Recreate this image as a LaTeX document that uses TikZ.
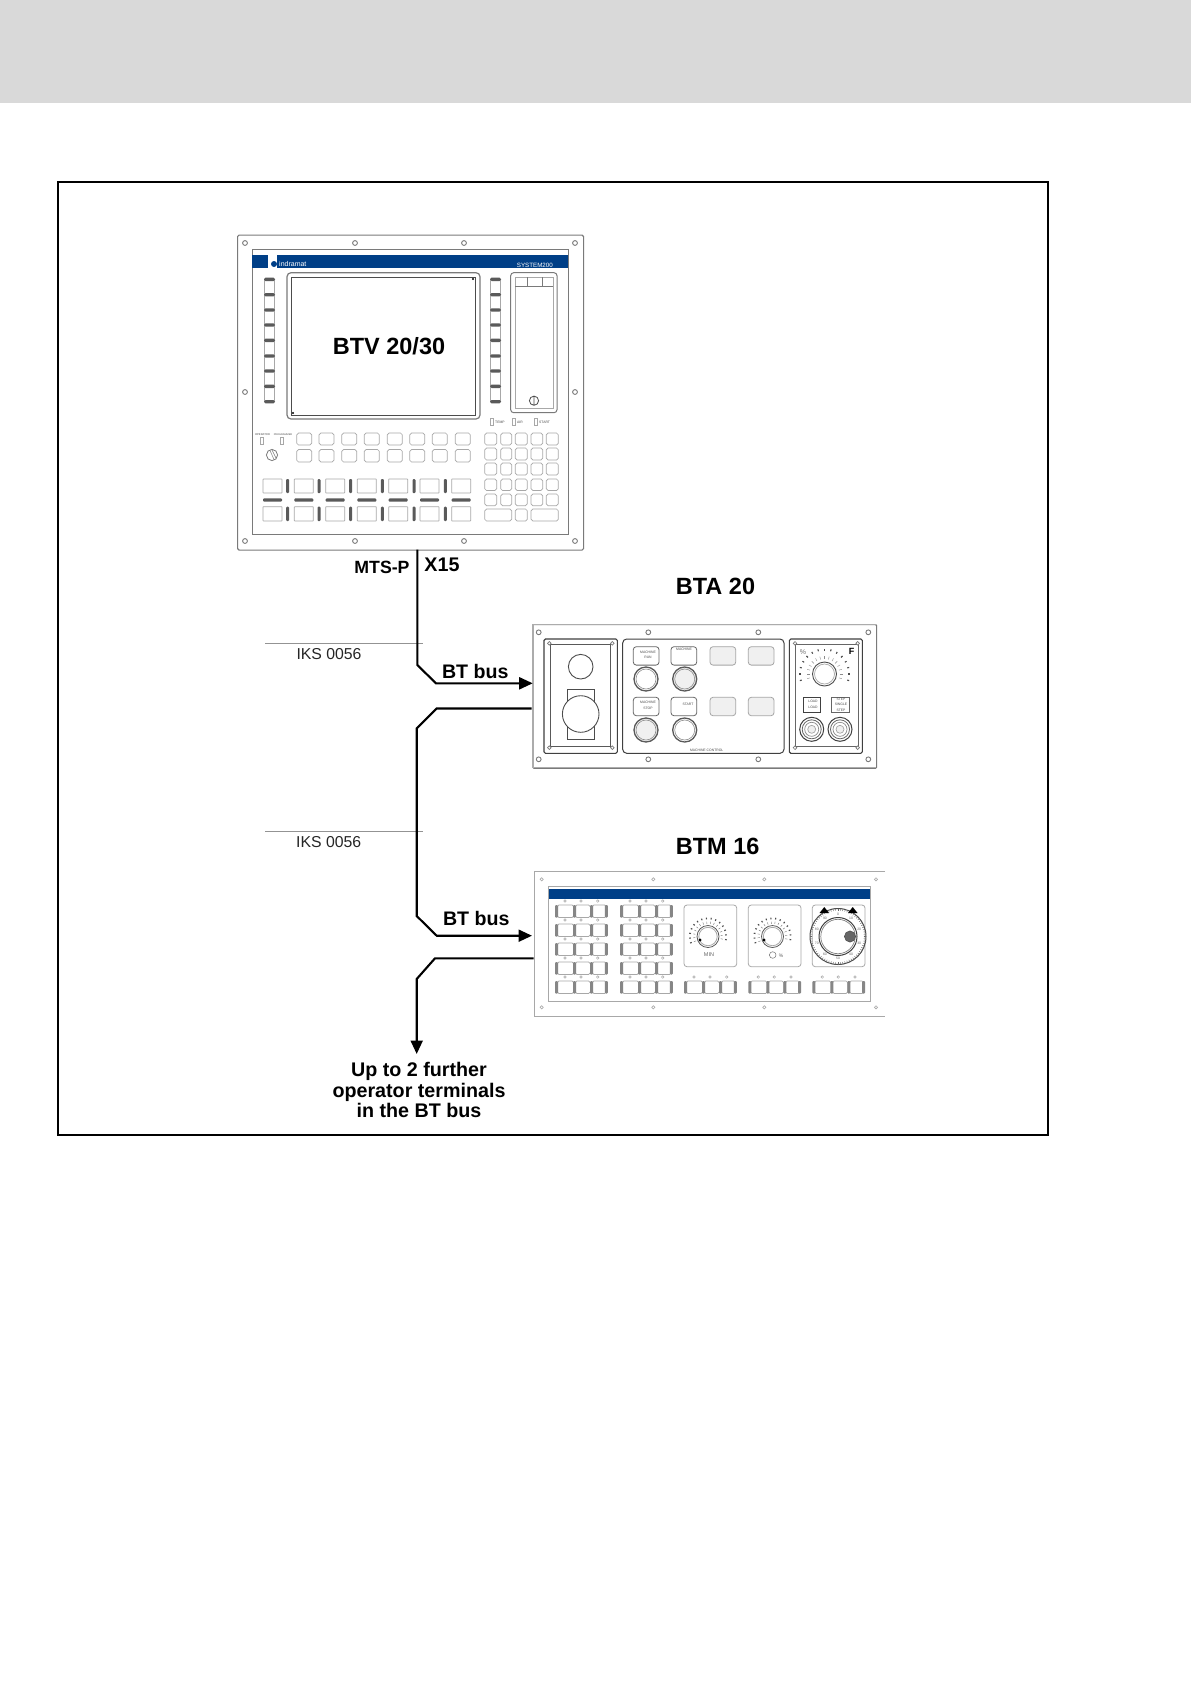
\documentclass[tikz,border=0pt]{standalone}
\usepackage{fontspec}
\setmainfont{Liberation Sans}
\usetikzlibrary{arrows.meta}
\definecolor{bandgray}{HTML}{D9D9D9}
\definecolor{blueband}{HTML}{003F87}
\definecolor{keyline}{HTML}{A8A8A8}
\definecolor{panelline}{HTML}{7A7A7A}
\definecolor{darkbar}{HTML}{5A5A5A}
\definecolor{softfill}{HTML}{F0F0F0}
\newcommand{\fsz}[1]{\fontsize{#1}{#1}\selectfont}
\tikzset{
  cable/.style={line width=2.1pt,black,line join=miter},
  cablearrow/.style={cable,-{Triangle[length=13.5pt,width=12pt]}},
  thinrule/.style={line width=1pt,gray!85},
  boldlabel/.style={inner sep=0pt,font=\bfseries\fsz{19.6},align=center},
  bigtitle/.style={inner sep=0pt,font=\bfseries\fsz{23.5}},
  ikslabel/.style={inner sep=0pt,font=\fsz{15.8},text=black!85},
  panelbox/.style={draw=panelline,line width=1.1pt,rounded corners=1.5pt,inner sep=0pt,fill=white},
  holest/.style={draw=panelline,line width=.9pt,fill=white},
  keyst/.style={draw=keyline,line width=.7pt,rounded corners=1.8pt},
  darkst/.style={fill=darkbar,draw=none,rounded corners=1pt},
  tiny/.style={inner sep=0pt,font=\fsz{3.4},text=black!70},
}
\newcommand{\hl}[2]{\draw[holest] (#1,#2) circle (2.4);}
\newcommand{\btmhole}[2]{\draw[draw=keyline,line width=.6pt,fill=white] (#1,#2) circle (1.6);}
\newcommand{\screw}[2]{\draw[draw=panelline,line width=.7pt,fill=white] (#1,#2) circle (1.8);}
\newcommand{\triplekeys}[2]{%
  \foreach \o/\w in {2/17,20/15.5,37/14.5}{\draw[keyst] (#1+\o,#2) rectangle ++(\w,12.5);}
  \foreach \o in {0,18,35,49.8}{\fill[darkst,fill=gray!95] (#1+\o,#2) rectangle ++(3,12.5);}
  \foreach \o in {10,26,42.7}{\draw[draw=keyline,line width=.5pt] (#1+\o,#2-4) circle (1.3);}
}
\newcommand{\smalldial}[2]{% cx cy
  \draw[draw=black!65,line width=.8pt] (#1,#2) circle (11);
  \draw[draw=keyline,line width=.8pt] (#1,#2) circle (9.2);
  \foreach \a in {160,175,...,380}{
    \draw[draw=black!55,line width=.4pt] ({#1+12.8*cos(\a)},{#2+12.8*sin(\a)}) -- ({#1+15*cos(\a)},{#2+15*sin(\a)});
    \draw[draw=black!70,line width=1.1pt] ({#1+17.3*cos(\a)},{#2+17.3*sin(\a)}) -- ({#1+19*cos(\a)},{#2+19*sin(\a)});
  }
}
\begin{document}
\begin{tikzpicture}[x=1pt,y=-1pt]
\useasboundingbox (0,0) rectangle (1191,1684);
\fill[white] (0,0) rectangle (1191,1684);
\fill[bandgray] (0,0) rectangle (1191,103);
\draw[black,line width=2.2pt] (58,181.7) rectangle (1048,1134.7);

%% ---------- BTV ----------
\node[panelbox,anchor=north west,minimum width=346pt,minimum height=315pt] (btv) at (237,234.5) {};
\draw[draw=panelline,line width=1pt] (252,249) rectangle (568,534);
\foreach \x in {245,355,464,575}{\foreach \y in {243,541}{\hl{\x}{\y}}}
\hl{245}{392}
\hl{575}{392}
\fill[blueband] (252,255) rectangle (568,268);
\fill[white] (268,255) rectangle (277,268);
\fill[blueband] (274,264) circle (3);
\node[inner sep=0pt,anchor=west,font=\fsz{7},text=white] (logo) at (279,264) {indramat};
\node[inner sep=0pt,anchor=east,font=\fsz{6.2},text=white] (sys) at (553,265) {SYSTEM200};
% screen
\draw[draw=panelline,line width=1.2pt,rounded corners=4pt] (287,272.7) rectangle (480,419);
\draw[draw=black!70,line width=1pt] (291,277) rectangle (475,415);
\fill[black] (473,279) circle (1.2);
\fill[black] (293,413) circle (1.2);
\node[bigtitle] (btvlabel) at (389,346) {BTV 20/30};
% soft keys
\foreach \x in {264,490}{
  \draw[keyline,line width=.7pt] (\x+.5,279) -- (\x+.5,402) (\x+10.5,279) -- (\x+10.5,402);
  \foreach \y in {279.3,294.7,310,325,340.3,356,371,386.3,401.7}{
    \fill[darkst,rounded corners=1.5pt] (\x,\y-1.7) rectangle ++(11,3.4);
  }
}
% right slot
\draw[draw=panelline,line width=1pt,rounded corners=3pt] (510.7,272.7) rectangle (557,412.7);
\draw[keyline,line width=.8pt] (515,277) rectangle (553,408);
\draw[draw=panelline,line width=.8pt] (515,286) -- (553,286) (527,277) -- (527,286) (542,277) -- (542,286);
\draw[draw=black!70,line width=.8pt] (534,400.7) circle (4.6) (534,396.1) -- (534,405.3);
% tiny indicators
\foreach \x/\t in {490/TEMP,512/AIR,534/START}{
  \draw[draw=keyline,line width=.6pt] (\x+.5,418.5) rectangle ++(2.5,7);
  \node[tiny,anchor=west] at (\x+5,422) {\t};
}
\node[tiny,font=\fsz{2.7}] (op) at (262.5,435) {OPERATOR};
\node[tiny,font=\fsz{2.5}] (prog) at (283,435) {PROGRAMMER};
\draw[draw=keyline,line width=.6pt] (260.5,437.5) rectangle ++(3,6.5);
\draw[draw=keyline,line width=.6pt] (280.5,437.5) rectangle ++(3,6.5);
\draw[draw=panelline,line width=.8pt] (272,455) circle (5.6);
\draw[draw=panelline,line width=.5pt] (270,450.5) -- (274,459.5) (272,450) -- (276,458);
% function keys
\foreach \x in {296.7,319,341.7,364.3,387.3,409.7,432.3,455.3}{
  \draw[keyst] (\x,433) rectangle ++(15,12);
  \draw[keyst] (\x,449.5) rectangle ++(15,12.5);
}
% big keys
\foreach \x in {263,294.3,325.7,357.3,388.7,420,451.7}{
  \draw[keyst,rounded corners=.5pt] (\x,479) rectangle ++(19,14);
  \draw[keyst,rounded corners=.5pt] (\x,506.7) rectangle ++(19,14.3);
  \fill[darkst] (\x,498.3) rectangle ++(19,3.4);
}
\foreach \x in {287.7,319,350.7,382.3,414,445.3}{
  \fill[darkst] (\x-1.5,479) rectangle ++(3,14);
  \fill[darkst] (\x-1.5,506.7) rectangle ++(3,14.3);
}
% keypad
\foreach \y/\h in {433/12,448/12,463/12,479/11.5,494/11.7}{
  \foreach \x/\w in {484.7/12,500.7/11,515.3/12,531/11.7,546.3/12}{
    \draw[keyst] (\x,\y) rectangle ++(\w,\h);
  }
}
\draw[keyst] (484.7,509) rectangle (511.7,521);
\draw[keyst] (515.3,509) rectangle (527.3,521);
\draw[keyst] (531,509) rectangle (558.3,521);

%% ---------- BTA ----------
\node[panelbox,anchor=north west,minimum width=343.7pt,minimum height=143.7pt,rounded corners=1pt] (bta) at (532.3,624) {};
\draw[draw=gray!65,line width=2.2pt] (533,624.5) -- (533,767.2);
\draw[draw=gray!65,line width=1.2pt] (532.3,624.3) -- (876,624.3) (532.3,767.5) -- (876,767.5);
\foreach \x in {538.7,648.3,758.3,868.3}{\foreach \y in {632.3,759.3}{\hl{\x}{\y}}}
% left box
\draw[draw=black!75,line width=1.1pt,rounded corners=1.5pt] (544,639) rectangle (617.3,753.3);
\draw[draw=black!65,line width=.9pt] (550.7,644.3) rectangle (610.7,746.7);
\foreach \x in {549.3,612.3}{\foreach \y in {643.3,747.7}{\screw{\x}{\y}}}
\draw[draw=black!70,line width=.9pt] (580.7,666.7) circle (12.3);
\draw[draw=black!70,line width=.9pt] (567.7,689) rectangle (594.3,739.3);
\draw[draw=black!70,line width=.9pt,fill=white] (580.7,714) circle (18.3);
% middle box
\draw[draw=black!75,line width=1pt,rounded corners=4pt] (622.7,639) rectangle (784,753.3);
\foreach \y in {646.7,697.3}{
  \draw[draw=black!60,line width=.8pt,rounded corners=3pt] (633.3,\y) rectangle ++(25.7,18.4);
  \draw[draw=black!60,line width=.8pt,rounded corners=3pt] (671,\y) rectangle ++(25.7,18.4);
  \draw[draw=black!35,line width=.8pt,fill=softfill,rounded corners=3pt] (710,\y) rectangle ++(25.7,18.4);
  \draw[draw=black!35,line width=.8pt,fill=softfill,rounded corners=3pt] (748.3,\y) rectangle ++(25.7,18.4);
}
\node[tiny] (m1) at (648,655) {\shortstack{MACHINE\\RUN}};
\node[tiny] (m2) at (684,649.5) {MACHINE};
\node[tiny] (m3) at (648,705.5) {\shortstack{MACHINE\\STOP}};
\node[tiny] (m4) at (688,704) {START};
\foreach \x/\y/\c in {646/679/white,684.7/679/softfill,646/730/softfill,684.7/730/white}{
  \draw[draw=black!65,line width=1.3pt,fill=\c] (\x,\y) circle (12);
  \draw[draw=black!45,line width=.6pt] (\x,\y) circle (10);
}
\node[tiny] (ctrl) at (706.7,750) {MACHINE CONTROL};
% right box
\draw[draw=black!75,line width=1.1pt,rounded corners=1.5pt] (789.3,639) rectangle (862.3,753.3);
\draw[draw=black!60,line width=.9pt] (795.7,644.3) rectangle (858.3,746.7);
\foreach \x in {795,857.7}{\foreach \y in {643.3,747.7}{\screw{\x}{\y}}}
\draw[draw=black!70,line width=.9pt] (824.5,674) circle (12);
\draw[draw=keyline,line width=.7pt] (824.5,674) circle (10);
\foreach \a in {165,180,...,375}{
  \draw[draw=black!45,line width=.4pt] ({824.5+15*cos(\a)},{674+15*sin(\a)}) -- ({824.5+18*cos(\a)},{674+18*sin(\a)});
  \draw[draw=black!70,line width=1.1pt] ({824.5+23.5*cos(\a)},{674+23.5*sin(\a)}) -- ({824.5+25.5*cos(\a)},{674+25.5*sin(\a)});
}
\node[inner sep=0pt,font=\bfseries\fsz{9}] (fmark) at (851.7,651.7) {F};
\node[inner sep=0pt,font=\fsz{7},text=black!55] (pct) at (803,652) {\%};
\draw[draw=black!75,line width=.9pt] (803.3,697.3) rectangle (820.7,712);
\draw[draw=black!60,line width=.7pt] (831.7,697.3) rectangle (849.3,712);
\node[tiny] (ba) at (813,704.5) {\shortstack{LOAD\\LOAD}};
\node[tiny] (bb) at (841,704.5) {\shortstack{STEP\\SINGLE\\STEP}};
\foreach \x in {811.7,840}{
  \draw[draw=black!75,line width=1pt] (\x,729.3) circle (12);
  \draw[draw=black!60,line width=.8pt] (\x,729.3) circle (9.5);
  \draw[draw=black!45,line width=.7pt] (\x,729.3) circle (7);
  \draw[draw=black!35,line width=.7pt,fill=softfill] (\x,729.3) circle (4);
}

%% ---------- BTM ----------
\node[inner sep=0pt,anchor=north west,minimum width=351pt,minimum height=144.3pt] (btm) at (534,871.7) {};
\draw[draw=keyline,line width=.9pt] (885,871.7) -- (534,871.7) -- (534,1016) -- (885,1016);
\draw[draw=keyline,line width=.9pt] (548.3,886.7) rectangle (870.7,1001);
\fill[blueband] (549,889) rectangle (870,899);
\foreach \x in {541.7,653.3,764.3,876}{\foreach \y in {879.3,1007.3}{\btmhole{\x}{\y}}}
\foreach \y in {905,924,943,962,981}{
  \triplekeys{555}{\y}
  \triplekeys{620}{\y}
}
\foreach \x in {684,748.3,812.3}{
  \triplekeys{\x}{981}
  \draw[draw=keyline,line width=.8pt,rounded corners=3pt] (\x,905) rectangle ++(52.7,61.7);
}
\smalldial{708}{936.5}
\smalldial{772.5}{936.5}
\fill[black] (700,940) circle (1.6);
\fill[black] (764,940) circle (1.6);
\node[inner sep=0pt,font=\fsz{5.5},text=black!60] (unit) at (709,955) {MIN};
\draw[draw=black!55,line width=.5pt] (772.7,955) circle (3.3);
\node[inner sep=0pt,font=\fsz{5},text=black!60] (pct2) at (781,956) {\%};
% handwheel
\draw[draw=black!70,line width=1pt] (838,936.5) circle (28);
\foreach \a in {0,5,...,355}{
  \draw[draw=black!60,line width=.4pt] ({838+25.7*cos(\a)},{936.5+25.7*sin(\a)}) -- ({838+28*cos(\a)},{936.5+28*sin(\a)});
}
\foreach \n [count=\i from 0] in {0,10,20,30,40,50,60,70,80,90}{
  \node[tiny,text=black!60] at ({838+22.3*cos(270+36*\i)},{936.5+22.3*sin(270+36*\i)}) {\n};
}
\draw[draw=black!75,line width=1pt] (838,936.5) circle (19);
\draw[draw=black!50,line width=.7pt] (838,936.5) circle (17.2);
\fill[black!60,draw=black!70,line width=.5pt] (850,936.5) circle (5.6);
\fill[black] (824.3,907) -- (819.5,913) -- (829,913) -- cycle;
\fill[black] (852.7,907) -- (848,913) -- (857.5,913) -- cycle;

%% ---------- labels ----------
\node[bigtitle] (btalabel) at (715.5,586.6) {BTA 20};
\node[bigtitle] (btmlabel) at (717.7,846.5) {BTM 16};
\node[inner sep=0pt,font=\bfseries\fsz{17.7}] (mtsp) at (382,567) {MTS-P};
\node[inner sep=0pt,font=\bfseries\fsz{19.7}] (xfifteen) at (442,565) {X15};
\node[boldlabel] (bus1) at (475.3,671.7) {BT bus};
\node[boldlabel] (bus2) at (476.3,918) {BT bus};
\node[ikslabel] (iks1) at (329,654) {IKS 0056};
\node[ikslabel] (iks2) at (328.7,842) {IKS 0056};
\node[boldlabel,font=\bfseries\fontsize{19.7}{20.3}\selectfont] (further) at (419,1090) {Up to 2 further\\operator terminals\\in the BT bus};

%% ---------- rules ----------
\coordinate (r1a) at (265,643.7); \coordinate (r1b) at (423,643.7);
\coordinate (r2a) at (265,831);   \coordinate (r2b) at (423,831);
\draw[thinrule] (r1a) -- (r1b);
\draw[thinrule] (r2a) -- (r2b);

%% ---------- cables ----------
\coordinate (x15) at (417.3,549.5);
\coordinate (c1) at (417.3,665);
\coordinate (c2) at (436,683.3);
\coordinate (btain) at (532.7,683.3);
\coordinate (btaout) at (531.7,708.5);
\coordinate (c3) at (436.7,708.5);
\coordinate (c4) at (416.7,728.3);
\coordinate (c5) at (416.7,916);
\coordinate (c6) at (436.7,935.7);
\coordinate (btmin) at (532,935.7);
\coordinate (btmout) at (533.5,958.3);
\coordinate (c7) at (435,958.3);
\coordinate (c8) at (416.7,979);
\coordinate (furtherin) at (416.7,1054);
\draw[cablearrow] (x15) -- (c1) -- (c2) -- (btain);
\draw[cablearrow] (btaout) -- (c3) -- (c4) -- (c5) -- (c6) -- (btmin);
\draw[cablearrow] (btmout) -- (c7) -- (c8) -- (furtherin);
\end{tikzpicture}
\end{document}
